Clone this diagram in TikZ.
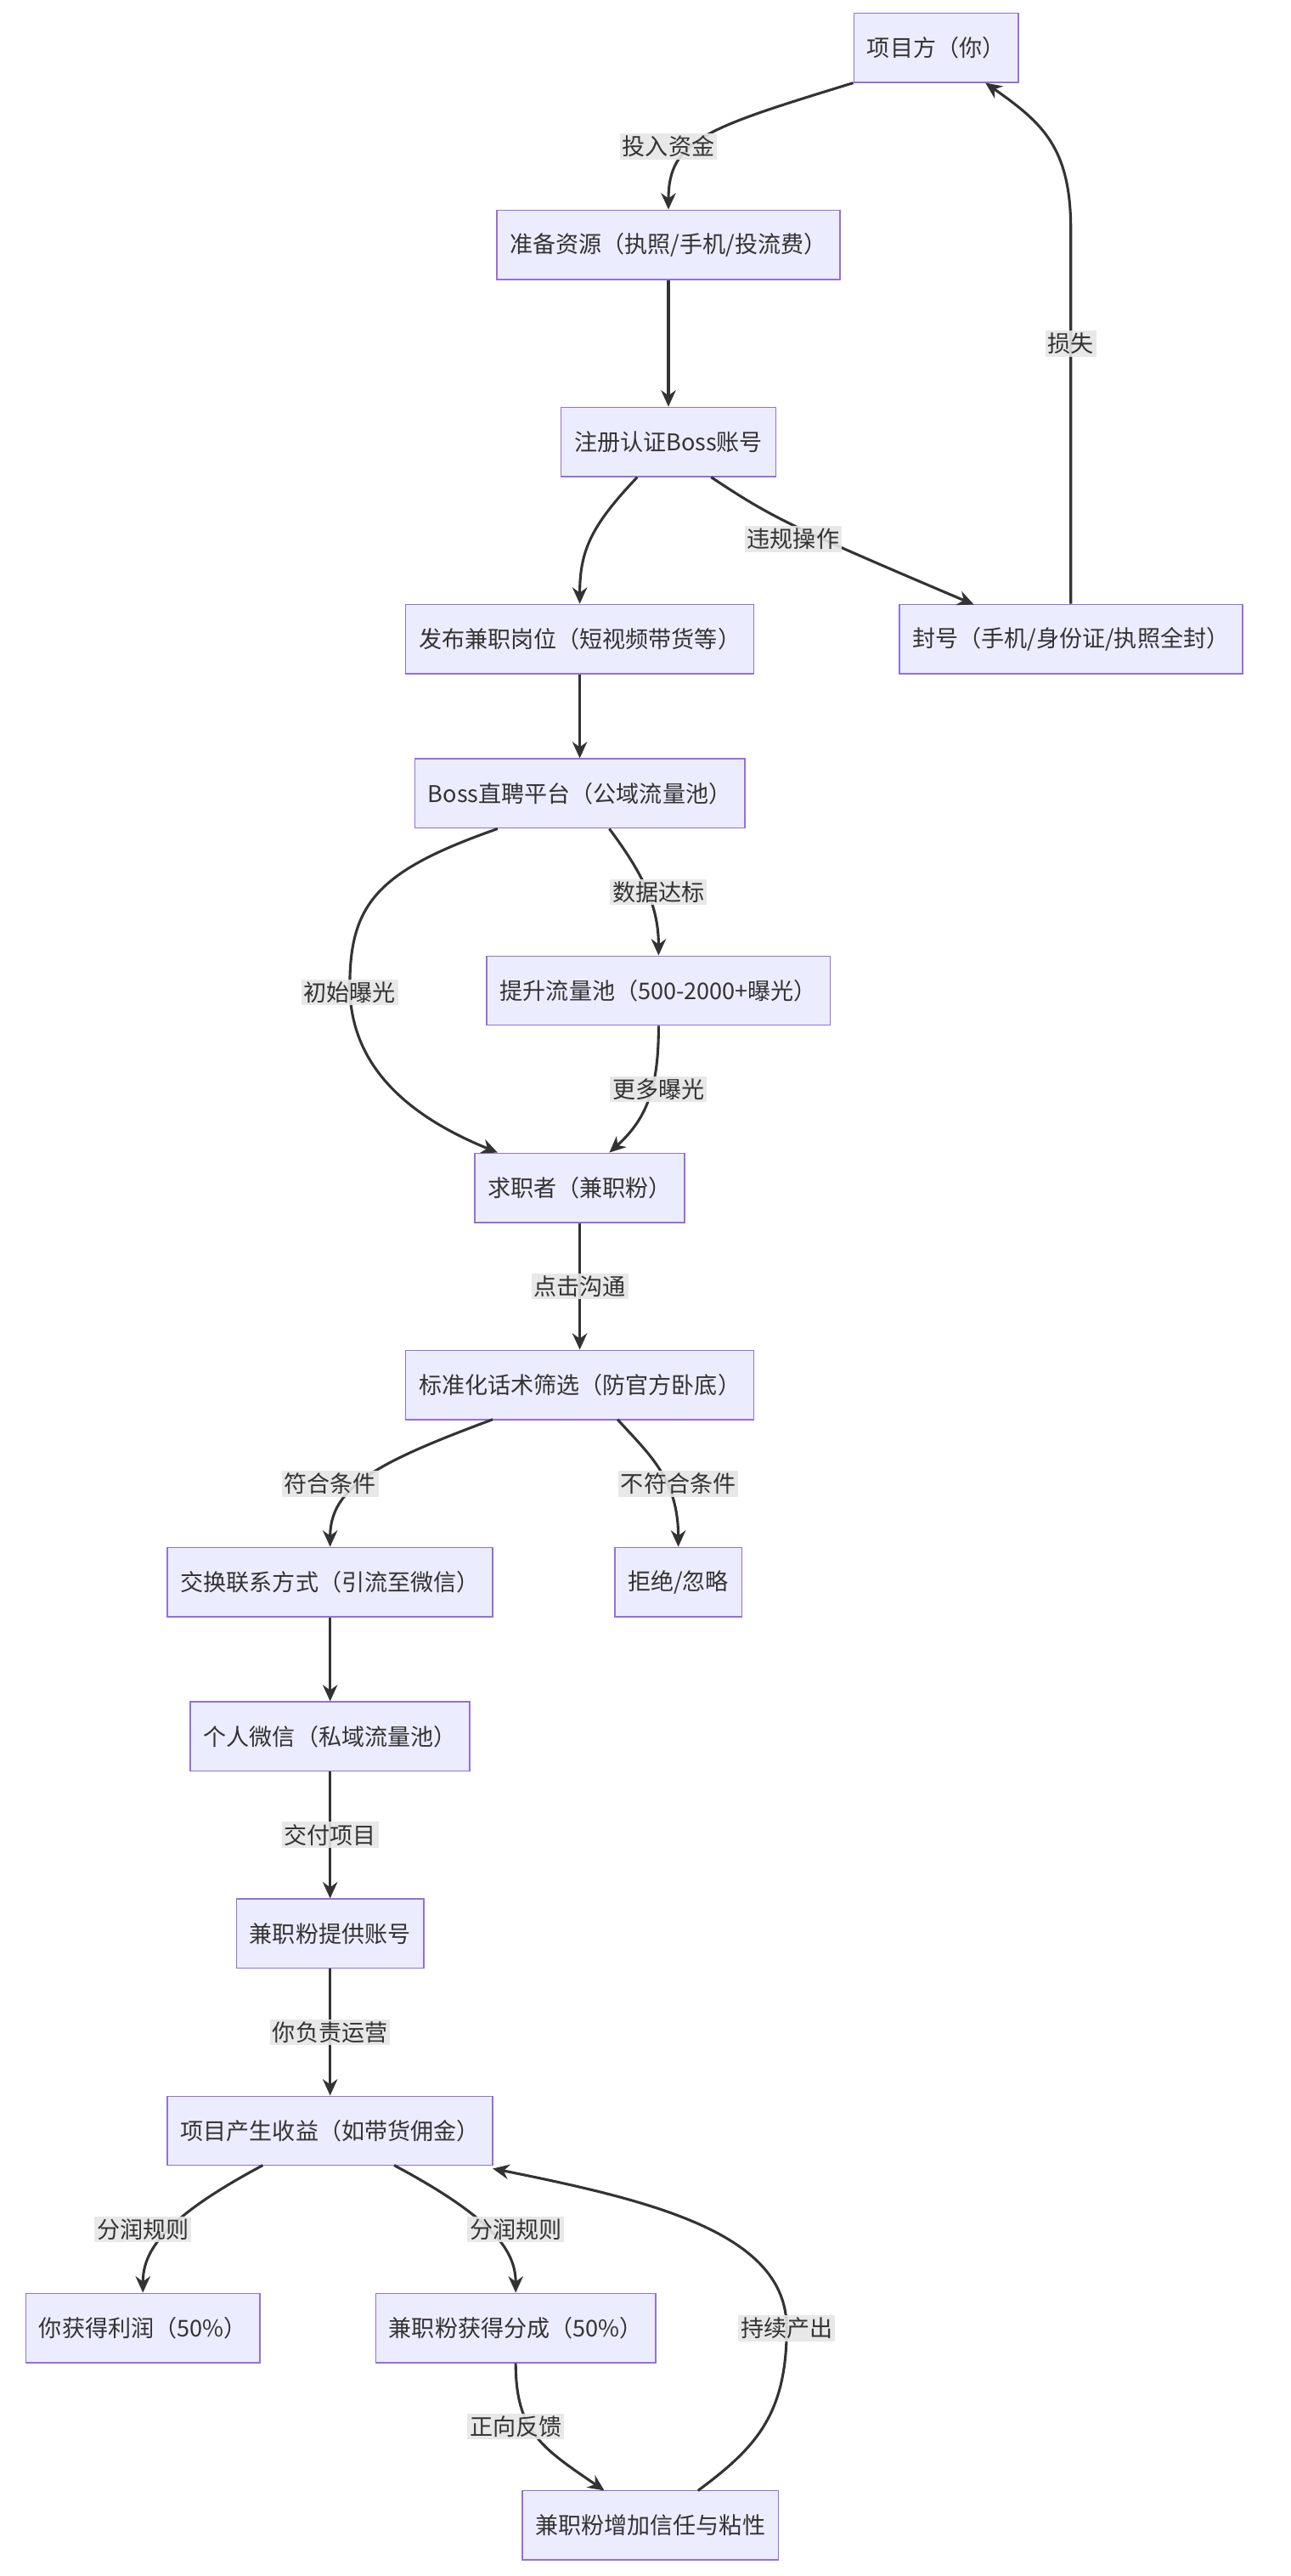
\documentclass[tikz,border=0pt]{standalone}
\usepackage{fontspec}
\setmainfont{Noto Sans CJK SC}
\usetikzlibrary{arrows.meta}
\definecolor{nfill}{HTML}{ECECFF}
\definecolor{nstroke}{HTML}{9370DB}
\definecolor{ecol}{HTML}{333333}
\begin{document}
\begin{tikzpicture}[x=1pt,y=-1pt,
  box/.style={draw=nstroke,fill=nfill,line width=0.9pt,minimum height=42,inner xsep=8,font=\fontsize{14}{16}\selectfont,text=ecol},
  e/.style={draw=ecol,line width=1.6pt,-{Stealth[length=10pt,width=9pt]}},
  lab/.style={fill=black!10,fill opacity=0.9,text opacity=1,inner sep=1.5pt,font=\fontsize{14}{16}\selectfont,text=ecol}]
\useasboundingbox (0,0) rectangle (786,1568);
\node[box] (A) at (570,29) {项目方（你）};
\node[box] (B) at (407,149) {准备资源（执照/手机/投流费）};
\node[box] (C) at (407,269) {注册认证Boss账号};
\node[box] (D) at (353,389) {发布兼职岗位（短视频带货等）};
\node[box] (E) at (652,389) {封号（手机/身份证/执照全封）};
\node[box] (F) at (353,483) {Boss直聘平台（公域流量池）};
\node[box] (G) at (401,603) {提升流量池（500-2000+曝光）};
\node[box] (H) at (353,723) {求职者（兼职粉）};
\node[box] (I) at (353,843) {标准化话术筛选（防官方卧底）};
\node[box] (J) at (201,963) {交换联系方式（引流至微信）};
\node[box] (K) at (413,963) {拒绝/忽略};
\node[box] (L) at (201,1057) {个人微信（私域流量池）};
\node[box] (M) at (201,1177) {兼职粉提供账号};
\node[box] (N) at (201,1297) {项目产生收益（如带货佣金）};
\node[box] (O) at (87,1417) {你获得利润（50\%）};
\node[box] (P) at (314,1417) {兼职粉获得分成（50\%）};
\node[box] (Q) at (396,1537) {兼职粉增加信任与粘性};

\draw[e] (A.south west) .. controls (430,78) and (407,85) .. (B.north);
\node[lab] at (407,89) {投入资金};
\draw[e] (B) -- (C);
\draw[e] ([xshift=-19pt]C.south) .. controls (360,320) and (353,335) .. (D.north);
\draw[e] ([xshift=26pt]C.south) .. controls (470,315) and (480,320) .. (593,368);
\node[lab] at (483,328) {违规操作};
\draw[e] (E.north) -- (652,140) .. controls (652,90) and (635,75) .. ([xshift=30pt]A.south);
\node[lab] at (652,209) {损失};
\draw[e] (D) -- (F);
\draw[e] ([xshift=-50pt]F.south) .. controls (230,530) and (213,550) .. (213,600) .. controls (213,650) and (250,680) .. ([xshift=-50pt]H.north);
\node[lab] at (213,604) {初始曝光};
\draw[e] ([xshift=18pt]F.south) .. controls (390,530) and (401,550) .. (G.north);
\node[lab] at (401,543) {数据达标};
\draw[e] (G.south) .. controls (401,660) and (395,680) .. ([xshift=18pt]H.north);
\node[lab] at (401,663) {更多曝光};
\draw[e] (H) -- (I);
\node[lab] at (353,783) {点击沟通};
\draw[e] (300,864) .. controls (230,890) and (201,905) .. (J.north);
\node[lab] at (201,903) {符合条件};
\draw[e] (376,864) .. controls (395,885) and (413,900) .. (K.north);
\node[lab] at (413,903) {不符合条件};
\draw[e] (J) -- (L);
\draw[e] (L) -- (M);
\node[lab] at (201,1117) {交付项目};
\draw[e] (M) -- (N);
\node[lab] at (201,1237) {你负责运营};
\draw[e] (160,1318) .. controls (100,1350) and (87,1370) .. (O.north);
\node[lab] at (87,1357) {分润规则};
\draw[e] (240,1318) .. controls (300,1350) and (314,1370) .. (P.north);
\node[lab] at (314,1357) {分润规则};
\draw[e] (P.south) .. controls (314,1480) and (330,1490) .. (368,1516);
\node[lab] at (314,1477) {正向反馈};
\draw[e] (425,1516) .. controls (460,1490) and (479,1470) .. (479,1417) .. controls (479,1360) and (400,1340) .. (300,1320);
\node[lab] at (479,1417) {持续产出};
\end{tikzpicture}
\end{document}
